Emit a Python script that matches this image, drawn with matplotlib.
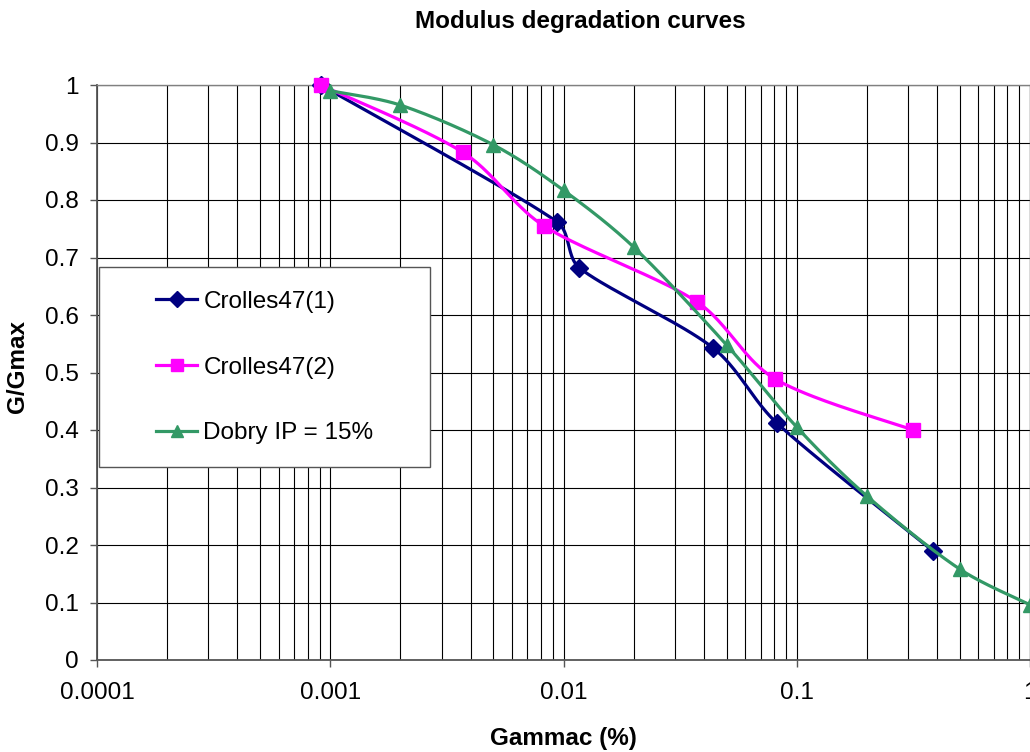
import numpy as np
import matplotlib
matplotlib.use("Agg")
import matplotlib.pyplot as plt
from matplotlib.patches import Rectangle

plt.rcParams['font.family'] = ['Liberation Sans', 'DejaVu Sans']

# ---------------- data ----------------
title = "Modulus degradation curves"
xlabel = "Gammac (%)"
ylabel = "G/Gmax"

crolles1_x = [0.00091, 0.00938, 0.0117, 0.0437, 0.0822, 0.383]
crolles1_y = [1.0, 0.762, 0.682, 0.543, 0.412, 0.19]

crolles2_x = [0.00091, 0.0037, 0.00824, 0.0373, 0.0806, 0.315]
crolles2_y = [1.0, 0.883, 0.755, 0.623, 0.489, 0.40]

dobry_x = [0.001, 0.002, 0.005, 0.01, 0.02, 0.05, 0.1, 0.2, 0.5, 1.0]
dobry_y = [0.99, 0.965, 0.896, 0.817, 0.718, 0.548, 0.405, 0.285, 0.158, 0.096]

series_names = ["Crolles47(1)", "Crolles47(2)", "Dobry IP = 15%"]
series_colors = ["#000080", "#FF00FF", "#339966"]
series_markers = ["D", "s", "^"]

x_ticks = [0.0001, 0.001, 0.01, 0.1, 1]
x_ticklabels = ["0.0001", "0.001", "0.01", "0.1", "1"]
y_ticks = [0, 0.1, 0.2, 0.3, 0.4, 0.5, 0.6, 0.7, 0.8, 0.9, 1]
y_ticklabels = ["0", "0.1", "0.2", "0.3", "0.4", "0.5", "0.6", "0.7", "0.8", "0.9", "1"]

# ---------------- figure ----------------
W, H = 1030, 752
fig = plt.figure(figsize=(W / 100, H / 100), dpi=100)
ax = fig.add_axes([97 / W, (H - 660) / H, (1030 - 97) / W, (660 - 85) / H])
ax.set_xscale('log')
ax.set_xlim(0.0001, 1)
ax.set_ylim(0, 1)

FS = 17.5

ax.set_xticks(x_ticks)
ax.set_xticklabels(x_ticklabels)
ax.set_yticks(y_ticks)
ax.set_yticklabels(y_ticklabels)
ax.xaxis.set_minor_locator(matplotlib.ticker.LogLocator(base=10, subs=np.arange(2, 10)))
ax.xaxis.set_minor_formatter(matplotlib.ticker.NullFormatter())
ax.tick_params(axis='both', which='major', direction='out', length=5, width=1,
               color='#555555', labelsize=FS)
ax.tick_params(axis='x', which='major', pad=11)
ax.tick_params(axis='y', which='major', pad=8)
ax.tick_params(axis='x', which='minor', length=0)

ax.grid(True, which='major', axis='both', color='black', lw=0.8)
ax.grid(True, which='minor', axis='x', color='black', lw=0.8)
ax.set_axisbelow(True)

for side in ['top', 'right']:
    ax.spines[side].set_color('#808080')
    ax.spines[side].set_linewidth(1)
for side in ['left', 'bottom']:
    ax.spines[side].set_color('#555555')
    ax.spines[side].set_linewidth(1.3)


def smooth(xs, ys, n=40):
    """Excel-like smoothed line, computed in display space (tangents clamped)."""
    pts = ax.transData.transform(np.column_stack([xs, ys]))
    P = np.vstack([pts[0], pts, pts[-1]])
    out = []
    t = np.linspace(0, 1, n)[:, None]
    for i in range(1, len(P) - 2):
        p0, p1, p2, p3 = P[i - 1], P[i], P[i + 1], P[i + 2]
        seglen = np.hypot(*(p2 - p1))
        d1 = (p2 - p0) / 6.0
        d2 = (p3 - p1) / 6.0
        lim = seglen / 3.0
        n1 = np.hypot(*d1)
        n2 = np.hypot(*d2)
        if n1 > lim and n1 > 0:
            d1 = d1 * lim / n1
        if n2 > lim and n2 > 0:
            d2 = d2 * lim / n2
        c1 = p1 + d1
        c2 = p2 - d2
        seg = ((1 - t) ** 3) * p1 + 3 * ((1 - t) ** 2) * t * c1 + 3 * (1 - t) * t ** 2 * c2 + t ** 3 * p2
        out.append(seg if i == 1 else seg[1:])
    out = np.vstack(out)
    data = ax.transData.inverted().transform(out)
    return data[:, 0], data[:, 1]


all_x = [crolles1_x, crolles2_x, dobry_x]
all_y = [crolles1_y, crolles2_y, dobry_y]
msizes = [9, 9.5, 10.5]
handles = []
for xs, ys, name, col, mk, ms in zip(all_x, all_y, series_names, series_colors, series_markers, msizes):
    sx, sy = smooth(xs, ys)
    ax.plot(sx, sy, color=col, lw=2.3, solid_joinstyle='round', zorder=3, clip_on=False)
    ax.plot(xs, ys, linestyle='none', marker=mk, ms=ms, color=col, mec=col, zorder=3, clip_on=False)
    h, = ax.plot([], [], color=col, lw=2.3, marker=mk, ms=ms * 0.85, mec=col)
    handles.append(h)

# legend box
ax.add_patch(Rectangle(((99 - 97) / 933, (660 - 467) / 575), (430 - 99) / 933, (467 - 267) / 575,
                       transform=ax.transAxes, facecolor='white', edgecolor='#555555',
                       lw=1, zorder=4.5, clip_on=False))
leg = ax.legend(handles, series_names, loc='center left',
                bbox_to_anchor=((156 - 97) / 933, (660 - 367.5) / 575),
                frameon=False, borderpad=0, borderaxespad=0, handlelength=1.7,
                handletextpad=0.25, labelspacing=1.8, fontsize=FS)
leg.set_zorder(5)

fig.text(580 / W, (H - 28) / H, title, ha='center', va='baseline', fontsize=FS, fontweight='bold')
fig.text(563 / W, (H - 745) / H, xlabel, ha='center', va='baseline', fontsize=FS, fontweight='bold')
fig.text(18 / W, (H - 367) / H, ylabel, ha='center', va='center', rotation=90, fontsize=FS,
         fontweight='bold')

fig.savefig("out.png", dpi=100)
